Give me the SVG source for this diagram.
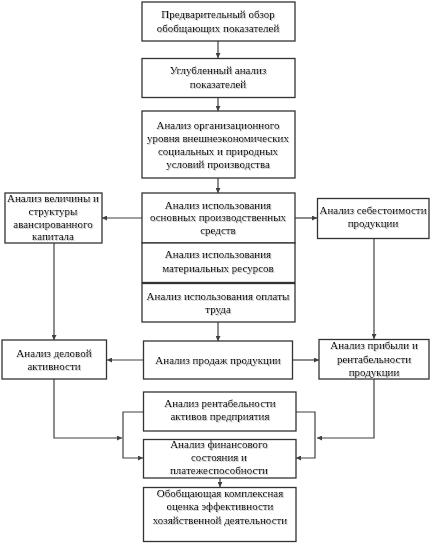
<svg xmlns="http://www.w3.org/2000/svg" width="432" height="543" viewBox="0 0 432 543">
<style>
.box{fill:#fff;stroke:#333;stroke-width:1.3}
.t{font-family:"Liberation Serif","Times New Roman",serif;font-size:11px;fill:#000;text-anchor:middle;filter:url(#sh)}
.c{fill:none;stroke:#404040;stroke-width:1.2}
</style>
<defs>
<marker id="a" viewBox="0 0 6 6" refX="6" refY="3" markerWidth="5" markerHeight="5" orient="auto" markerUnits="userSpaceOnUse">
<path d="M0,0 L6,3 L0,6 z" fill="#404040"/>
</marker>
<filter id="sh" x="-5%" y="-20%" width="110%" height="140%">
<feDropShadow dx="1" dy="1" stdDeviation="0.4" flood-color="#aaa" flood-opacity="0.7"/>
</filter>
</defs>
<rect width="432" height="543" fill="#fff"/>
<g id="connectors">
<path class="c" d="M218,41 V58" marker-end="url(#a)"/>
<path class="c" d="M218,97 V111" marker-end="url(#a)"/>
<path class="c" d="M218,178 V193" marker-end="url(#a)"/>
<path class="c" d="M142,218 H102" marker-end="url(#a)"/>
<path class="c" d="M295,218 H317" marker-end="url(#a)"/>
<path class="c" d="M54,243 V340" marker-end="url(#a)"/>
<path class="c" d="M374,238 V339" marker-end="url(#a)"/>
<path class="c" d="M218,322 V341" marker-end="url(#a)"/>
<path class="c" d="M143,360 H107" marker-end="url(#a)"/>
<path class="c" d="M293,360 H319" marker-end="url(#a)"/>
<path class="c" d="M54,379 V438 H122" marker-end="url(#a)"/>
<path class="c" d="M374,379 V438 H317" marker-end="url(#a)"/>
<path class="c" d="M143,412 H123 V458 H143" marker-end="url(#a)"/>
<path class="c" d="M296,412 H315 V458 H296" marker-end="url(#a)"/>
<path class="c" d="M220,478 V487" marker-end="url(#a)"/>
</g>
<g id="n1"><rect class="box" x="142" y="2" width="153" height="39"/>
<text class="t" x="218" y="18">Предварительный обзор</text><text class="t" x="218" y="32">обобщающих показателей</text></g>
<g id="n2"><rect class="box" x="142" y="58.5" width="153" height="39"/>
<text class="t" x="218" y="74">Углубленный анализ</text><text class="t" x="218" y="88">показателей</text></g>
<g id="n3"><rect class="box" x="142" y="111" width="153" height="67"/>
<text class="t" x="218" y="129">Анализ организационного</text><text class="t" x="218" y="142">уровня внешнеэкономических</text><text class="t" x="218" y="155">социальных и природных</text><text class="t" x="218" y="168">условий производства</text></g>
<g id="n4"><rect class="box" x="142" y="193" width="153" height="50"/>
<text class="t" x="218" y="208.5">Анализ использования</text><text class="t" x="218" y="221">основных производственных</text><text class="t" x="218" y="234">средств</text></g>
<g id="n5"><rect class="box" x="142" y="243" width="153" height="39.5"/>
<text class="t" x="218" y="258">Анализ использования</text><text class="t" x="218" y="272">материальных ресурсов</text></g>
<g id="n6"><rect class="box" x="142" y="283.5" width="153" height="38.5"/>
<text class="t" x="218" y="300">Анализ использования оплаты</text><text class="t" x="218" y="313">труда</text></g>
<g id="n7"><rect class="box" x="5" y="193" width="97" height="50"/>
<text class="t" x="53" y="202">Анализ величины и</text><text class="t" x="53" y="214.5">структуры</text><text class="t" x="53" y="227.5">авансированного</text><text class="t" x="53" y="240">капитала</text></g>
<g id="n8"><rect class="box" x="317.5" y="198.5" width="111.5" height="40"/>
<text class="t" x="373" y="213.5">Анализ себестоимости</text><text class="t" x="373" y="227">продукции</text></g>
<g id="n9"><rect class="box" x="2" y="340" width="104.5" height="39"/>
<text class="t" x="54" y="357">Анализ деловой</text><text class="t" x="54" y="369.5">активности</text></g>
<g id="n10"><rect class="box" x="143.5" y="341" width="149" height="38"/>
<text class="t" x="218" y="363.5">Анализ продаж продукции</text></g>
<g id="n11"><rect class="box" x="319" y="339.5" width="110" height="39.5"/>
<text class="t" x="374" y="349">Анализ прибыли и</text><text class="t" x="374" y="363">рентабельности</text><text class="t" x="374" y="376">продукции</text></g>
<g id="n12"><rect class="box" x="143.5" y="392" width="152.5" height="39"/>
<text class="t" x="220" y="407">Анализ рентабельности</text><text class="t" x="220" y="419.5">активов предприятия</text></g>
<g id="n13"><rect class="box" x="143.5" y="439.5" width="152.5" height="38.5"/>
<text class="t" x="219" y="447.5">Анализ финансового</text><text class="t" x="219" y="461">состояния и</text><text class="t" x="219" y="473.5">платежеспособности</text></g>
<g id="n14"><rect class="box" x="143.5" y="487.5" width="152.5" height="54"/>
<text class="t" x="220" y="497">Обобщающая комплексная</text><text class="t" x="220" y="509.5">оценка эффективности</text><text class="t" x="220" y="523.5">хозяйственной деятельности</text></g>
</svg>
